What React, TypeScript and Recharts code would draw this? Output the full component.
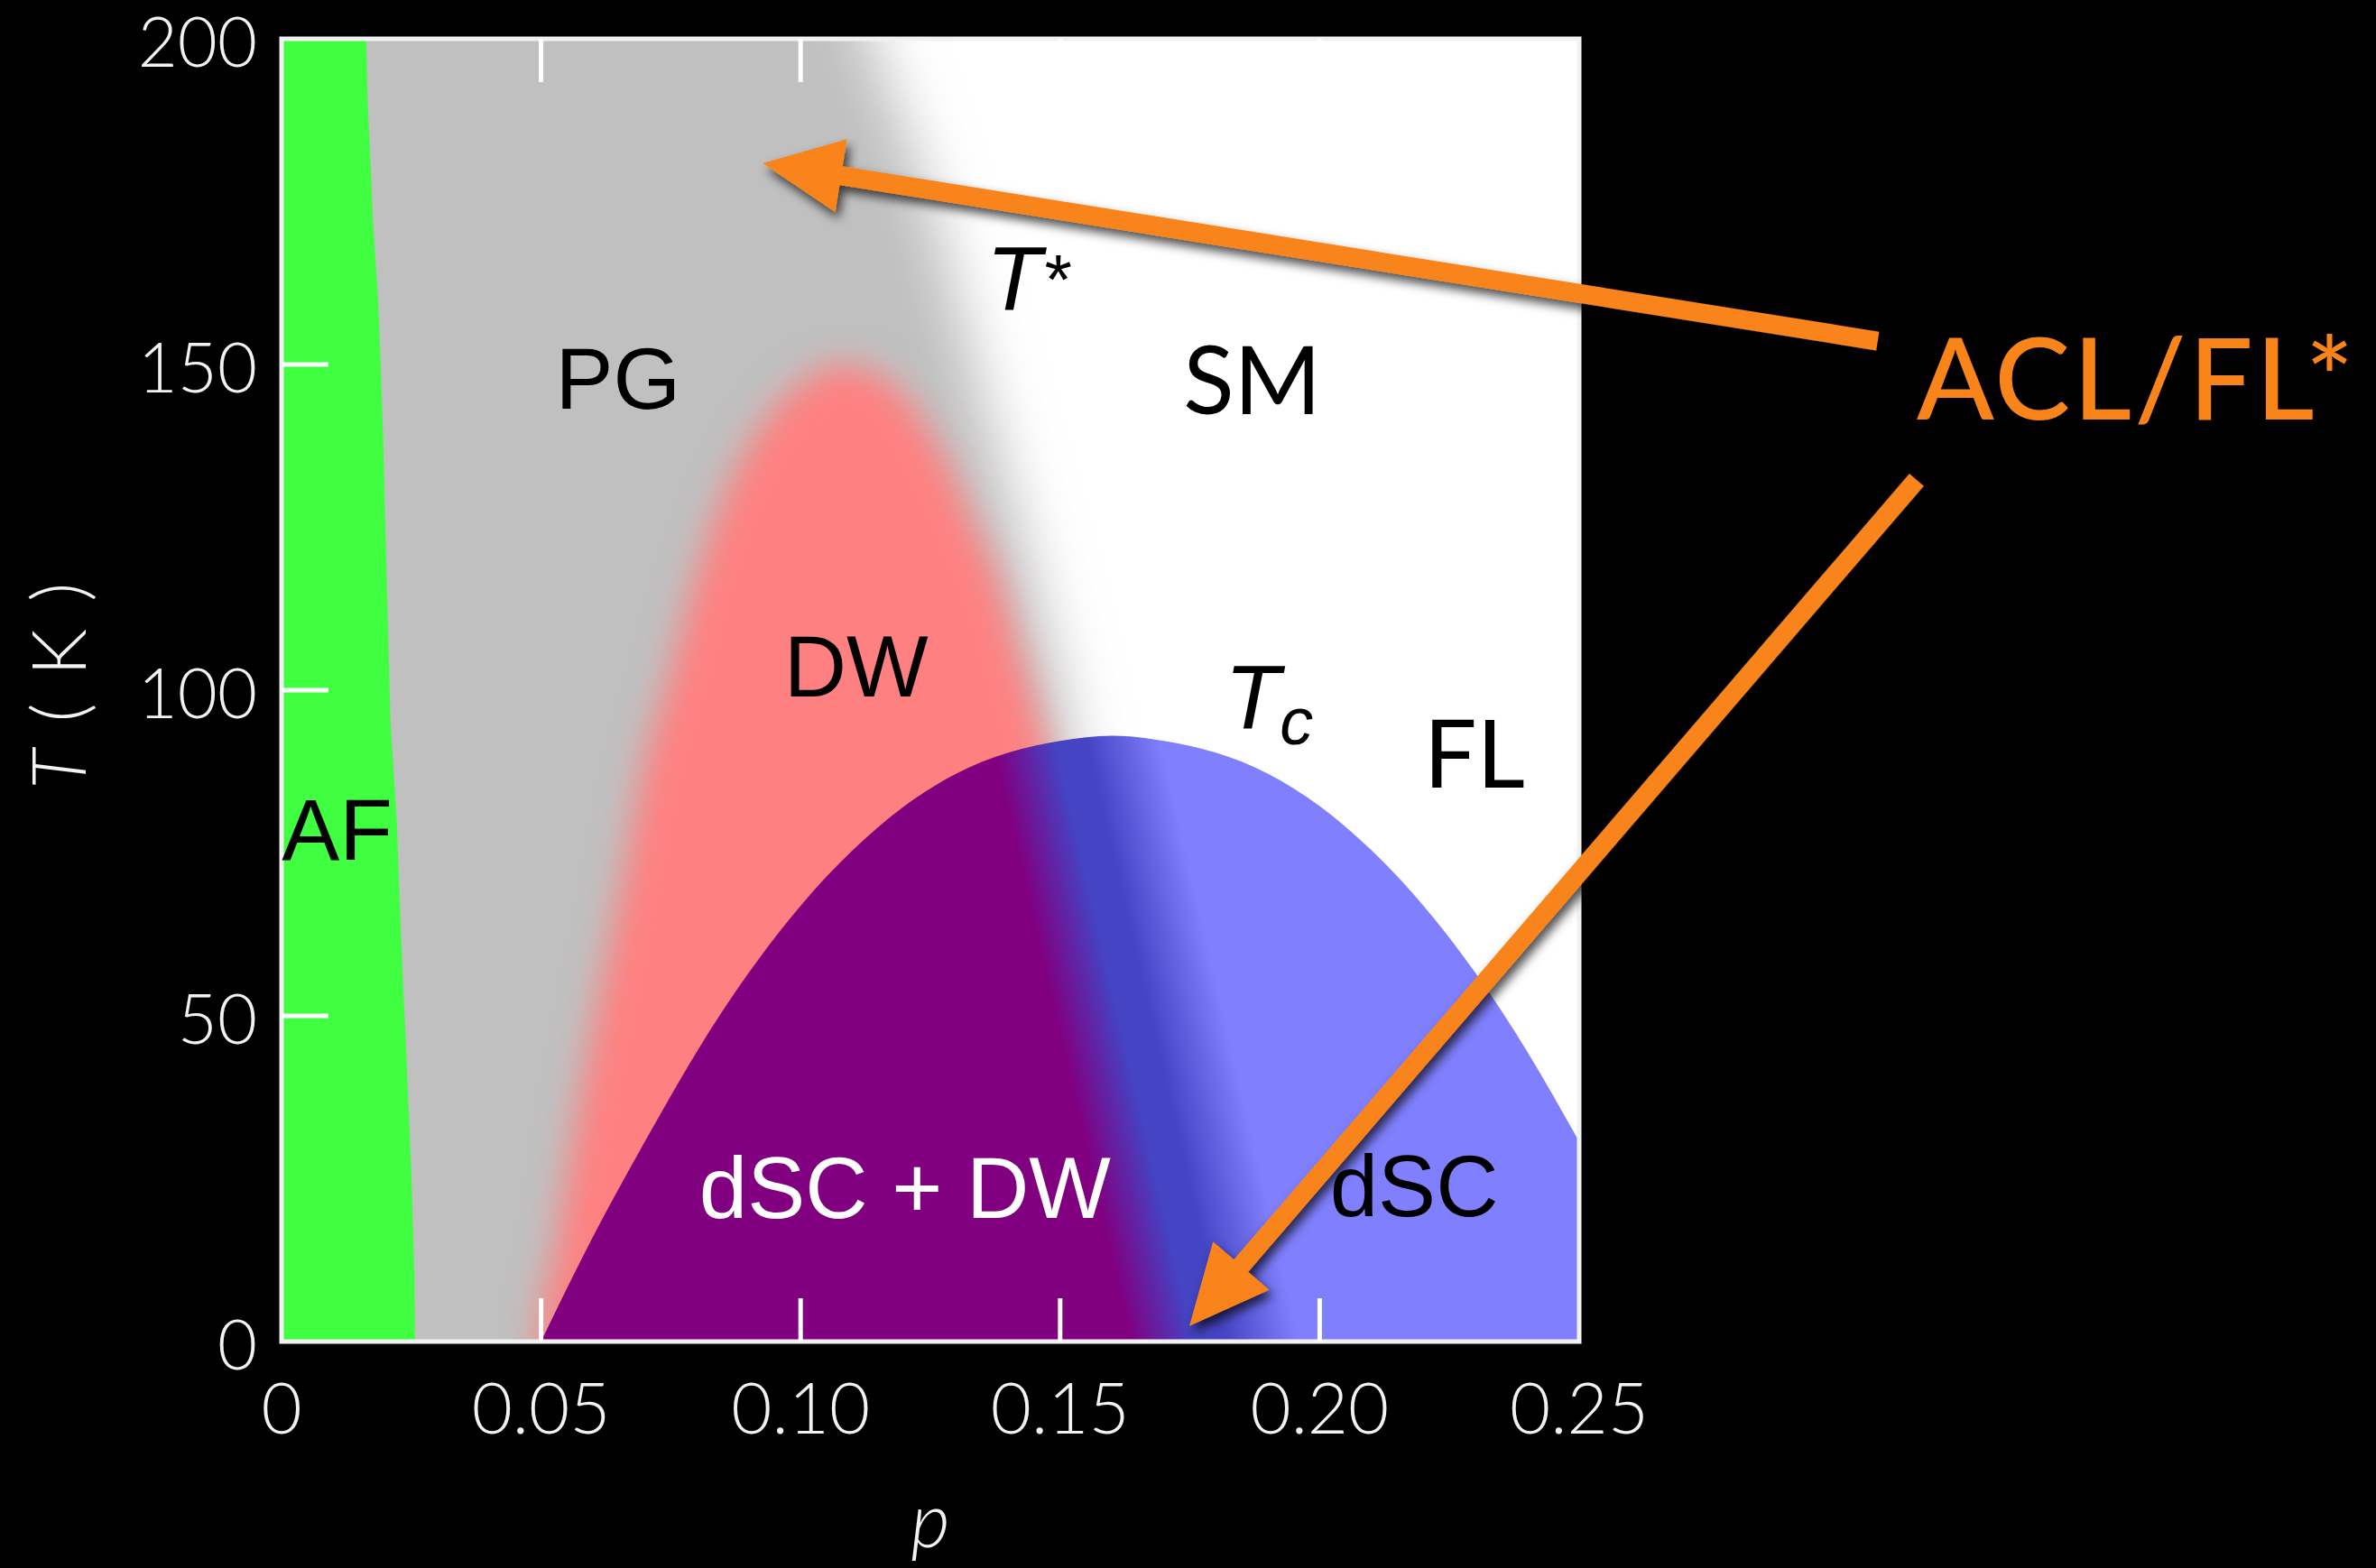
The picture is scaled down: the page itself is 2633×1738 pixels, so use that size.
import React from 'react';
import {
  ComposedChart,
  Area,
  XAxis,
  YAxis,
  CartesianGrid,
  ReferenceArea,
  ReferenceDot,
  ReferenceLine,
} from 'recharts';

// ---- axes ----
const xTicks = [0, 0.05, 0.1, 0.15, 0.2, 0.25];
const xTickLabels = ['0', '0.05', '0.10', '0.15', '0.20', '0.25'];
const yTicks = [0, 50, 100, 150, 200];
const yTickLabels = ['0', '50', '100', '150', '200'];

// ---- phase regions (p = hole doping, T in kelvin) ----
// antiferromagnet: right edge of the AF strip
const afEdge = [
  { p: 0, T: 200 },
  { p: 0.0163, T: 200 },
  { p: 0.0166, T: 190 },
  { p: 0.0172, T: 180 },
  { p: 0.0176, T: 172 },
  { p: 0.0186, T: 160 },
  { p: 0.0191, T: 150 },
  { p: 0.0196, T: 138 },
  { p: 0.02, T: 125 },
  { p: 0.0205, T: 110 },
  { p: 0.021, T: 95 },
  { p: 0.0222, T: 80 },
  { p: 0.0228, T: 67 },
  { p: 0.0234, T: 55 },
  { p: 0.024, T: 45 },
  { p: 0.025, T: 26 },
  { p: 0.0256, T: 10 },
  { p: 0.0257, T: 0 },
];

// pseudogap: everything below the T* crossover
const pseudogapEdge = [
  { p: -0.02, T: 240 },
  { p: 0.0954, T: 240 },
  { p: 0.1136, T: 200 },
  { p: 0.125, T: 175 },
  { p: 0.137, T: 140 },
  { p: 0.147, T: 110 },
  { p: 0.152, T: 92 },
  { p: 0.156, T: 60 },
  { p: 0.158, T: -40 },
];

// density-wave dome
const densityWaveEdge = [
  { p: 0.047, T: -40 },
  { p: 0.0495, T: 0 },
  { p: 0.053, T: 15 },
  { p: 0.057, T: 35 },
  { p: 0.061, T: 52 },
  { p: 0.066, T: 72 },
  { p: 0.07, T: 89 },
  { p: 0.074, T: 100 },
  { p: 0.079, T: 115 },
  { p: 0.083, T: 125 },
  { p: 0.092, T: 140 },
  { p: 0.1, T: 147 },
  { p: 0.108, T: 150 },
  { p: 0.116, T: 148 },
  { p: 0.122, T: 143 },
  { p: 0.128, T: 135 },
  { p: 0.133, T: 126 },
  { p: 0.138, T: 117 },
  { p: 0.142, T: 106 },
  { p: 0.146, T: 95 },
  { p: 0.15, T: 80 },
  { p: 0.155, T: 50 },
  { p: 0.162, T: -40 },
];

// superconducting dome Tc(p)
const tcDome = [
  { p: 0.05, T: 0 },
  { p: 0.06, T: 16.1 },
  { p: 0.07, T: 30.7 },
  { p: 0.08, T: 44.5 },
  { p: 0.09, T: 56.6 },
  { p: 0.1, T: 66.9 },
  { p: 0.11, T: 75.4 },
  { p: 0.12, T: 82.2 },
  { p: 0.13, T: 87.2 },
  { p: 0.14, T: 90.4 },
  { p: 0.15, T: 92.2 },
  { p: 0.16, T: 93 },
  { p: 0.17, T: 92.2 },
  { p: 0.18, T: 90.4 },
  { p: 0.19, T: 87.2 },
  { p: 0.2, T: 82.2 },
  { p: 0.21, T: 75.4 },
  { p: 0.22, T: 66.9 },
  { p: 0.23, T: 56.6 },
  { p: 0.24, T: 44.5 },
  { p: 0.25, T: 30.7 },
];

// ---- annotations ----
const regionLabels = [
  { text: 'PG', p: 0.0648, T: 143.2, color: '#000000', font: 'sans' },
  { text: 'DW', p: 0.1107, T: 99.0, color: '#000000', font: 'sans' },
  { text: 'AF', p: 0.0107, T: 74.0, color: '#000000', font: 'sans' },
  { text: 'dSC + DW', p: 0.1201, T: 19.0, color: '#ffffff', font: 'sans' },
  { text: 'dSC', p: 0.2182, T: 19.2, color: '#000000', font: 'sans' },
  { text: 'SM', p: 0.187, T: 142.4, color: '#000000', font: 'gill' },
  { text: 'FL', p: 0.2298, T: 85.0, color: '#000000', font: 'gill' },
];

const lineLabels = [
  { main: 'T', sup: '*', sub: '', p: 0.1358, T: 158.4 },
  { main: 'T', sup: '', sub: 'c', p: 0.1817, T: 94.2 },
];

const calloutText = { text: 'ACL/FL*', p: 0.315, T: 141.6 };

const arrows = [
  { fromP: 0.3075, fromT: 153.6, toP: 0.0927, toT: 180.9 },
  { fromP: 0.315, fromT: 132.3, toP: 0.1749, toT: 2.4 },
];

// ---- styling ----
const ORANGE = '#F9841A';
const AXIS_WHITE = '#f2f2f2';
const LIGHT_FONT = 'Lato, "Open Sans", sans-serif';
const SANS_FONT = '"Liberation Sans", Arial, sans-serif';

const labelFor = (v: number, ticks: number[], labels: string[]) => {
  let best = 0;
  ticks.forEach((t, i) => {
    if (Math.abs(t - v) < Math.abs(ticks[best] - v)) best = i;
  });
  return labels[best];
};

const BottomTick = (props: any) => {
  const { x, y, payload } = props;
  const v = payload.value;
  const inner = v > 0.001 && v < 0.249;
  return (
    <g>
      {inner && <line x1={x} x2={x} y1={y} y2={y - 48} stroke="#ffffff" strokeWidth={5} />}
      <text
        x={x}
        y={y + 102}
        textAnchor="middle"
        fill={AXIS_WHITE}
        fontFamily={LIGHT_FONT}
        fontWeight={300}
        fontSize={78}
      >
        {labelFor(v, xTicks, xTickLabels)}
      </text>
    </g>
  );
};

const TopTick = (props: any) => {
  const { x, y, payload } = props;
  const v = payload.value;
  if (!(v > 0.001 && v < 0.249)) return <g />;
  return <line x1={x} x2={x} y1={y} y2={y + 48} stroke="#ffffff" strokeWidth={5} />;
};

const LeftTick = (props: any) => {
  const { x, y, payload } = props;
  const v = payload.value;
  const inner = v > 0 && v < 200;
  return (
    <g>
      {inner && <line x1={x} x2={x + 52} y1={y} y2={y} stroke="#ffffff" strokeWidth={5} />}
      <text
        x={x - 27}
        y={y + 31}
        textAnchor="end"
        fill={AXIS_WHITE}
        fontFamily={LIGHT_FONT}
        fontWeight={300}
        fontSize={76}
      >
        {labelFor(v, yTicks, yTickLabels)}
      </text>
    </g>
  );
};

const XTitle = (props: any) => {
  const vb = props.viewBox || {};
  return (
    <text
      x={vb.x + vb.width / 2}
      y={vb.y + 228}
      textAnchor="middle"
      fill={AXIS_WHITE}
      fontFamily={LIGHT_FONT}
      fontWeight={300}
      fontStyle="italic"
      fontSize={84}
    >
      p
    </text>
  );
};

const YTitle = (props: any) => {
  const vb = props.viewBox || {};
  const cx = vb.x + 66;
  const cy = vb.y + vb.height / 2 - 7;
  return (
    <text
      x={cx}
      y={cy}
      dy={29}
      transform={`rotate(-90, ${cx}, ${cy})`}
      textAnchor="middle"
      fill={AXIS_WHITE}
      fontFamily={LIGHT_FONT}
      fontWeight={300}
      fontSize={82}
      letterSpacing={4}
    >
      <tspan fontStyle="italic">T</tspan> ( K )
    </text>
  );
};

const ArrowShape = (props: any) => {
  const { x1, y1, x2, y2 } = props;
  if ([x1, y1, x2, y2].some((v) => typeof v !== 'number' || Number.isNaN(v))) return <g />;
  const dx = x2 - x1;
  const dy = y2 - y1;
  const len = Math.hypot(dx, dy) || 1;
  const ux = dx / len;
  const uy = dy / len;
  const headLen = 88;
  const headHalf = 41;
  const bx = x2 - ux * headLen;
  const by = y2 - uy * headLen;
  const nx = -uy;
  const ny = ux;
  return (
    <g filter="url(#arrowShadow)">
      <line x1={x1} y1={y1} x2={bx + ux * 4} y2={by + uy * 4} stroke={ORANGE} strokeWidth={21} />
      <polygon
        points={`${x2},${y2} ${bx + nx * headHalf},${by + ny * headHalf} ${bx - nx * headHalf},${by - ny * headHalf}`}
        fill={ORANGE}
      />
    </g>
  );
};

export default function App() {
  return (
    <div
      style={{
        position: 'fixed',
        left: 0,
        top: 0,
        width: 2633,
        height: 1738,
        background: '#000000',
        overflow: 'hidden',
      }}
    >
      <ComposedChart
        width={2633}
        height={1738}
        margin={{ top: 42, right: 883, bottom: 0, left: 0 }}
      >
        <defs>
          <filter id="softGray" x="-50%" y="-50%" width="200%" height="200%">
            <feGaussianBlur stdDeviation="32" />
          </filter>
          <filter id="softPink" x="-50%" y="-50%" width="200%" height="200%">
            <feGaussianBlur stdDeviation="19" />
          </filter>
          <filter id="arrowShadow" x="-20%" y="-20%" width="140%" height="140%">
            <feDropShadow dx="4" dy="7" stdDeviation="6" floodColor="#000000" floodOpacity="0.7" />
          </filter>
          <linearGradient id="scFill" x1="0" y1="0" x2="1" y2="-0.135">
            <stop offset="0" stopColor="#800080" />
            <stop offset="0.425" stopColor="#800080" />
            <stop offset="0.485" stopColor="#4444C4" />
            <stop offset="0.515" stopColor="#4444C4" />
            <stop offset="0.585" stopColor="#8080FF" />
            <stop offset="1" stopColor="#8080FF" />
          </linearGradient>
        </defs>

        <CartesianGrid fill="#ffffff" stroke="none" />

        <XAxis
          xAxisId={0}
          type="number"
          dataKey="p"
          domain={[0, 0.25]}
          allowDataOverflow
          ticks={xTicks}
          interval={0}
          tickSize={0}
          tickMargin={0}
          tick={<BottomTick />}
          tickLine={false}
          axisLine={false}
          height={251}
          label={XTitle}
        />
        <XAxis
          xAxisId="top"
          orientation="top"
          type="number"
          dataKey="p"
          domain={[0, 0.25]}
          allowDataOverflow
          ticks={xTicks}
          interval={0}
          tickSize={0}
          tickMargin={0}
          tick={<TopTick />}
          tickLine={false}
          axisLine={false}
          height={1}
        />
        <YAxis
          yAxisId={0}
          type="number"
          domain={[0, 200]}
          allowDataOverflow
          ticks={yTicks}
          interval={0}
          tickSize={0}
          tickMargin={0}
          tick={<LeftTick />}
          tickLine={false}
          axisLine={false}
          width={312}
          label={YTitle}
        />

        <Area
          data={pseudogapEdge}
          dataKey="T"
          type="monotone"
          fill="#C0C0C0"
          fillOpacity={1}
          stroke="none"
          baseValue={-40}
          filter="url(#softGray)"
          dot={false}
          activeDot={false}
          isAnimationActive={false}
        />
        <Area
          data={densityWaveEdge}
          dataKey="T"
          type="monotone"
          fill="#FF8080"
          fillOpacity={1}
          stroke="none"
          baseValue={-40}
          filter="url(#softPink)"
          dot={false}
          activeDot={false}
          isAnimationActive={false}
        />
        <Area
          data={afEdge}
          dataKey="T"
          type="linear"
          fill="#40FF40"
          fillOpacity={1}
          stroke="none"
          dot={false}
          activeDot={false}
          isAnimationActive={false}
        />
        <Area
          data={tcDome}
          dataKey="T"
          type="natural"
          fill="url(#scFill)"
          fillOpacity={1}
          stroke="none"
          dot={false}
          activeDot={false}
          isAnimationActive={false}
        />

        <ReferenceArea
          x1={0}
          x2={0.25}
          y1={0}
          y2={200}
          fill="none"
          fillOpacity={0}
          stroke={AXIS_WHITE}
          strokeWidth={5}
          ifOverflow="visible"
          zIndex={450}
        />

        {regionLabels.map((l) => (
          <ReferenceDot
            key={l.text}
            x={l.p}
            y={l.T}
            r={0}
            ifOverflow="visible"
            zIndex={600}
            shape={(props: any) => (
              <text
                x={props.cx}
                y={props.cy}
                textAnchor="middle"
                fill={l.color}
                fontFamily={l.font === 'gill' ? LIGHT_FONT : SANS_FONT}
                fontSize={l.font === 'gill' ? 104 : 96}
              >
                {l.text}
              </text>
            )}
          />
        ))}

        {lineLabels.map((l) => (
          <ReferenceDot
            key={l.main + l.sup + l.sub}
            x={l.p}
            y={l.T}
            r={0}
            ifOverflow="visible"
            zIndex={600}
            shape={(props: any) => (
              <text
                x={props.cx}
                y={props.cy}
                textAnchor="start"
                fill="#000000"
                fontFamily={SANS_FONT}
                fontStyle="italic"
                fontSize={100}
              >
                {l.main}
                {l.sup && (
                  <tspan fontSize={78} dy={-6}>
                    {l.sup}
                  </tspan>
                )}
                {l.sub && (
                  <tspan fontSize={74} dy={18}>
                    {l.sub}
                  </tspan>
                )}
              </text>
            )}
          />
        ))}

        {arrows.map((a, i) => (
          <ReferenceLine
            key={`arrow-${i}`}
            segment={[
              { x: a.fromP, y: a.fromT },
              { x: a.toP, y: a.toT },
            ]}
            ifOverflow="visible"
            zIndex={2500}
            shape={ArrowShape}
          />
        ))}

        <ReferenceDot
          x={calloutText.p}
          y={calloutText.T}
          r={0}
          ifOverflow="visible"
          zIndex={2500}
          shape={(props: any) => (
            <text
              x={props.cx}
              y={props.cy}
              textAnchor="start"
              fill={ORANGE}
              fontFamily={LIGHT_FONT}
              fontWeight={500}
              fontSize={126}
              letterSpacing={3}
            >
              {calloutText.text}
            </text>
          )}
        />
      </ComposedChart>
    </div>
  );
}
